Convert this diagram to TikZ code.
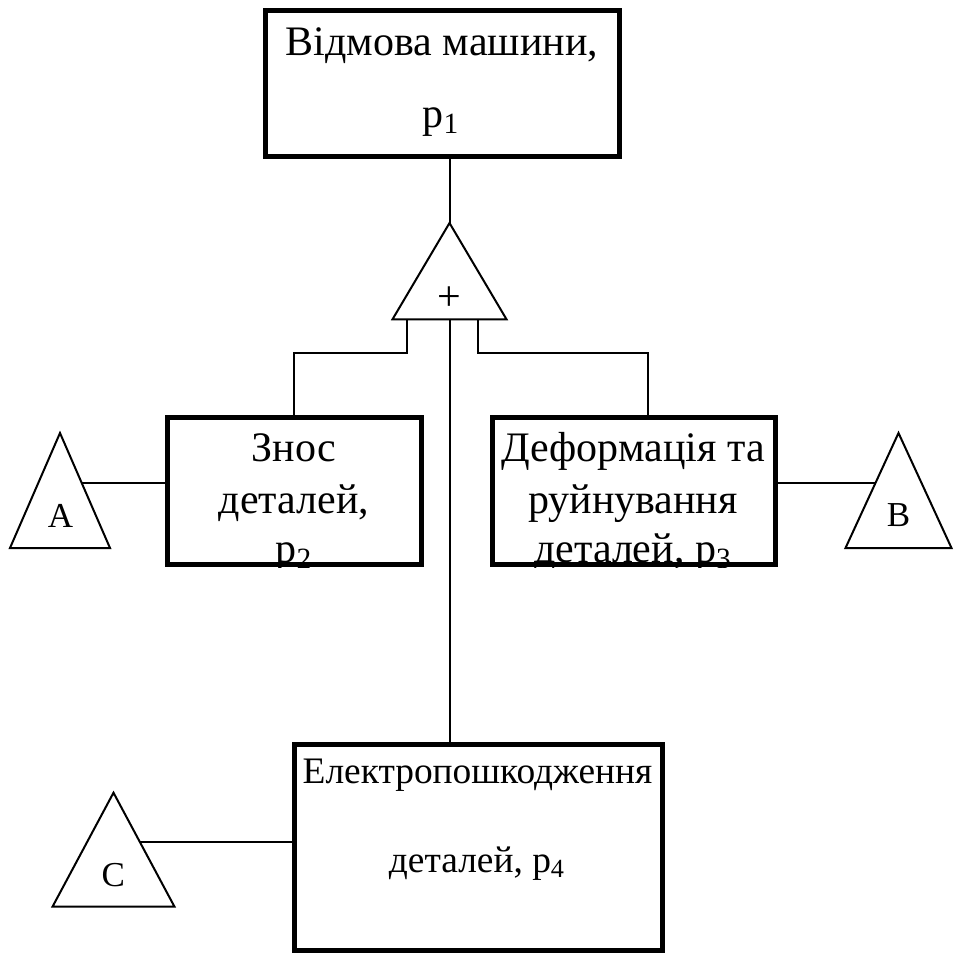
\documentclass[tikz,border=0pt]{standalone}
\usepackage{fontspec}
\setmainfont{Liberation Serif}

\begin{document}
\begin{tikzpicture}[x=0.5pt, y=-0.5pt,
  event/.style={draw, line width=2.5pt, rectangle, inner sep=0pt},
  thin line/.style={line width=1pt},
  bigtext/.style={font=\fontsize{21pt}{25pt}\selectfont, inner sep=0pt, anchor=base},
  midtext/.style={font=\fontsize{18.7pt}{22pt}\selectfont, inner sep=0pt, anchor=base},
  smalltext/.style={font=\fontsize{17.5pt}{21pt}\selectfont, inner sep=0pt, anchor=base}]

\useasboundingbox (0,0) rectangle (964,955);

% event boxes
\node[event, minimum width=177pt, minimum height=73pt] (fail) at (442.5,83.5) {};
\node[event, minimum width=127.25pt, minimum height=73.5pt] (wear) at (294.25,491) {};
\node[event, minimum width=141.5pt, minimum height=73.5pt] (deform) at (634,491) {};
\node[event, minimum width=183.75pt, minimum height=103.25pt] (elec) at (478.25,847.25) {};

\node[bigtext] (fail1) at (442,55) {Відмова машини,};
\node[bigtext] (fail2) at (441,127) {p\textsubscript{1}};

\begin{scope}
\clip (wear.south west) rectangle (wear.north east);
\node[bigtext] (wear1) at (294,461.7) {Знос};
\node[bigtext] (wear2) at (294,513) {деталей,};
\node[bigtext] (wear3) at (294,562) {p\textsubscript{2}};
\end{scope}

\begin{scope}
\clip (deform.south west) rectangle (deform.north east);
\node[bigtext] (deform1) at (633,461.7) {Деформація та};
\node[bigtext] (deform2) at (633,513) {руйнування};
\node[bigtext] (deform3) at (633,562) {деталей, p\textsubscript{3}};
\end{scope}

\node[midtext] (elec1) at (477.5,783) {Електропошкодження};
\node[midtext] (elec2) at (477,872) {деталей, p\textsubscript{4}};

% OR gate
\coordinate (gate top) at (449.5,223);
\coordinate (gate left) at (407,319.3);
\coordinate (gate mid) at (449.5,319.3);
\coordinate (gate right) at (478.3,319.3);
\coordinate (right drop) at (647.5,352.7);

\draw[thin line] (gate top) -- ++(57,96.3) -- ++(-114,0) -- cycle;
\node[bigtext, anchor=center] (plus) at (449.5,299) {+};

\draw[thin line] (fail.south -| gate top) -- (gate top);
\draw[thin line] (gate left) -- ++(0,33.4) -| (wear.north);
\draw[thin line] (gate right) |- (right drop) -- (right drop |- deform.north);
\draw[thin line] (gate mid) -- (gate mid |- elec.north);

% transfer triangles
\coordinate (tri a) at (60,433);
\coordinate (tri b) at (898.5,433);
\coordinate (tri c) at (113.5,792.7);
\draw[thin line] (tri a) -- ++(50,115) -- ++(-100,0) -- cycle;
\draw[thin line] (tri b) -- ++(53,115) -- ++(-106,0) -- cycle;
\draw[thin line] (tri c) -- ++(61,114) -- ++(-122,0) -- cycle;

\node[smalltext] (label a) at (60.5,527) {A};
\node[smalltext] (label b) at (898.5,526) {B};
\node[smalltext] (label c) at (113.3,886) {C};

\coordinate (a joint) at (81.7,483);
\coordinate (b joint) at (875.5,483);
\coordinate (c joint) at (139.7,841.7);
\draw[thin line] (a joint) -- (a joint -| wear.west);
\draw[thin line] (deform.east |- b joint) -- (b joint);
\draw[thin line] (c joint) -- (c joint -| elec.west);

\end{tikzpicture}
\end{document}
